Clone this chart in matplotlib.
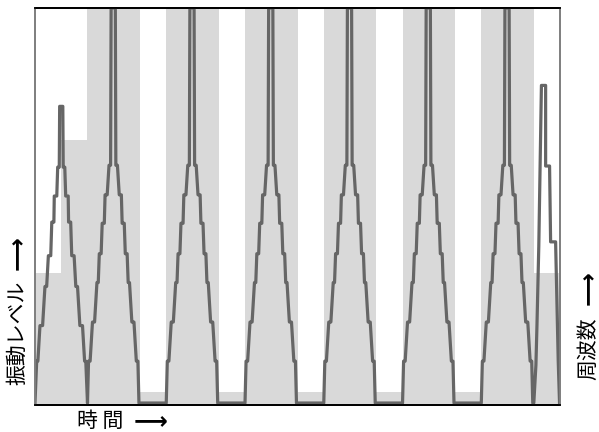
import numpy as np
import matplotlib
matplotlib.use("Agg")
import matplotlib.pyplot as plt

plt.rcParams['font.family'] = ['Noto Sans CJK JP', 'DejaVu Sans']

# frequency steps (right axis), one level per time segment
freq_edges = [0, 1, 2, 4, 5, 7, 8, 10, 11, 13, 14, 16, 17, 19, 20]
freq_levels = [1, 2, 3, 0.1, 3, 0.1, 3, 0.1, 3, 0.1, 3, 0.1, 3, 1]

# vibration level, first (partial) peak
first_t = [0, 0.065, 0.11, 0.19, 0.29, 0.38, 0.445, 0.51, 0.60, 0.64, 0.72, 0.735, 0.83,
           0.865, 0.925, 0.94, 1.06, 1.075, 1.135, 1.17, 1.265, 1.28, 1.36, 1.40, 1.49,
           1.555, 1.62, 1.71, 1.81, 1.89, 1.935, 2.0]
first_v = [0, 1.06, 1.06, 1.96, 1.96, 2.95, 2.95, 3.73, 3.73, 4.58, 4.58, 5.24, 5.24,
           5.97, 5.97, 7.51, 7.51, 5.97, 5.97, 5.24, 5.24, 4.58, 4.58, 3.73, 3.73,
           2.95, 2.95, 1.96, 1.96, 1.06, 1.06, 0]

# full peak shape (time relative to its segment start)
peak_t = [0, 0.04, 0.10, 0.19, 0.27, 0.36, 0.41, 0.45, 0.52, 0.56, 0.64, 0.67, 0.75,
          0.82, 0.88, 0.90, 1.06, 1.08, 1.14, 1.21, 1.29, 1.32, 1.40, 1.44, 1.51,
          1.55, 1.60, 1.69, 1.77, 1.86, 1.92, 1.96]
peak_v = [0, 1.06, 1.06, 2.05, 2.05, 3.05, 3.05, 3.78, 3.78, 4.55, 4.55, 5.27, 5.27,
          6.02, 6.02, 10, 10, 6.02, 6.02, 5.27, 5.27, 4.55, 4.55, 3.78, 3.78,
          3.05, 3.05, 2.05, 2.05, 1.06, 1.06, 0]
peak_starts = [2, 5, 8, 11, 14, 17]

# last (cut) peak
last_t = [19.0, 19.08, 19.12, 19.19, 19.29, 19.45, 19.45, 19.60, 19.64, 19.83, 19.93, 19.98]
last_v = [0, 0.96, 1.96, 3.98, 8.04, 8.04, 6.0, 6.0, 4.08, 4.08, 1.06, 0]

t = list(first_t)
v = list(first_v)
for s in peak_starts:
    if s > 2:
        t.append(s)
        v.append(0)
    t += [s + p for p in peak_t]
    v += peak_v
t += last_t
v += last_v

fig = plt.figure(figsize=(5.99, 4.32), dpi=100)
ax = fig.add_axes([0.0584, 0.0625, 0.8766, 0.919])
ax2 = ax.twinx()

ax2.stairs(freq_levels, freq_edges, fill=True, color='#d9d9d9', lw=0)
ax2.set_ylim(0, 3)

ax.plot(t, v, color='#666666', lw=2.3)
ax.set_xlim(0, 20)
ax.set_ylim(-0.05, 10)

ax.set_zorder(ax2.get_zorder() + 1)
ax.patch.set_visible(False)

for a in (ax, ax2):
    a.set_xticks([])
    a.set_yticks([])
    a.spines['top'].set_color('black')
    a.spines['bottom'].set_color('black')
    a.spines['left'].set_color('#808080')
    a.spines['right'].set_color('#808080')
    for sp in a.spines.values():
        sp.set_linewidth(1.3)

arrow = dict(family=['DejaVu Sans'], fontweight='bold', fontsize=17)
fig.text(0.028, 0.109, '振動レベル', rotation=90, ha='center', va='bottom', fontsize=15)
fig.text(0.028, 0.375, '⟶', rotation=90, ha='center', va='bottom', **arrow)
fig.text(0.982, 0.12, '周波数', rotation=90, ha='center', va='bottom', fontsize=15)
fig.text(0.982, 0.294, '⟶', rotation=90, ha='center', va='bottom', **arrow)
fig.text(0.128, 0.025, '時 間', ha='left', va='center', fontsize=15)
fig.text(0.223, 0.025, '⟶', ha='left', va='center', **arrow)

fig.savefig('out.png', dpi=100)
